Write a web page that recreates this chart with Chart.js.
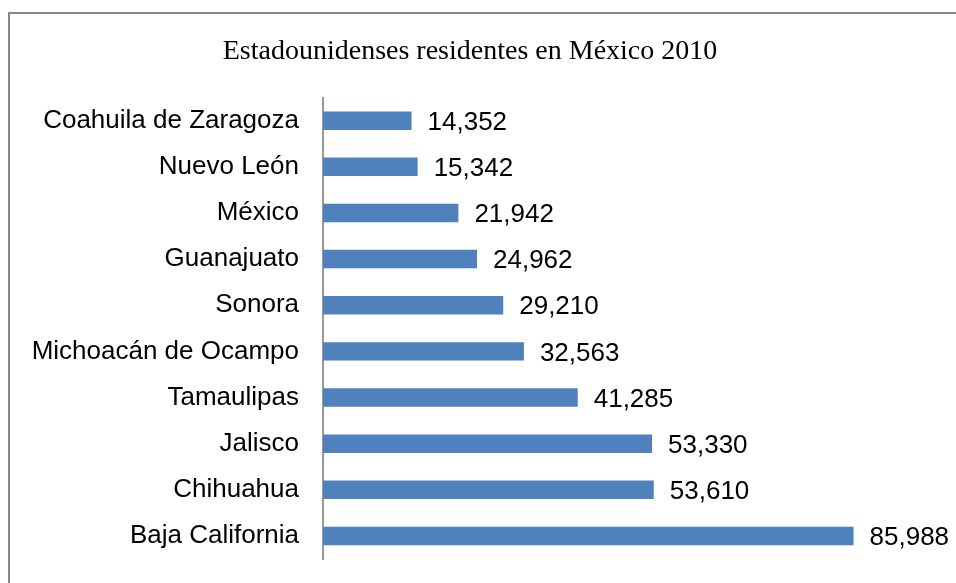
<!DOCTYPE html>
<html>
<head>
<meta charset="utf-8">
<script src="https://cdn.jsdelivr.net/npm/chart.js@4"></script>
<style>
    html, body { margin: 0; padding: 0; background: #fff; overflow: hidden; }
    #wrap { position: relative; width: 956px; height: 583px; }
    #frame {
        position: absolute; left: 8px; top: 12px; width: 980px; height: 620px;
        border-left: 2px solid #888; border-top: 2px solid #888;
    }
    canvas { position: absolute; left: 0; top: 0; }
</style>
</head>
<body>
<div id="wrap">
    <div id="frame"></div>
    <canvas id="chart" width="956" height="583"></canvas>
</div>
<script>
// Data (top to bottom as in the picture)
const states = ['Coahuila de Zaragoza', 'Nuevo León', 'México', 'Guanajuato', 'Sonora',
    'Michoacán de Ocampo', 'Tamaulipas', 'Jalisco', 'Chihuahua', 'Baja California'];
const residents = [14352, 15342, 21942, 24962, 29210, 32563, 41285, 53330, 53610, 85988];
const chartTitle = 'Estadounidenses residentes en México 2010';

// Value labels drawn at the end of every bar
const valueLabels = {
    id: 'valueLabels',
    afterDatasetsDraw(chart) {
        const ctx = chart.ctx;
        const meta = chart.getDatasetMeta(0);
        ctx.save();
        ctx.font = '26px "Liberation Sans", Arial, sans-serif';
        ctx.fillStyle = '#000';
        ctx.textAlign = 'left';
        ctx.textBaseline = 'middle';
        meta.data.forEach((bar, i) => {
            ctx.fillText(residents[i].toLocaleString('en-US'), bar.x + 16, bar.y + 2);
        });
        ctx.restore();
    }
};

new Chart(document.getElementById('chart'), {
    type: 'bar',
    data: {
        labels: states,
        datasets: [{
            data: residents,
            backgroundColor: '#4F81BD',
            borderWidth: 0,
            categoryPercentage: 1,
            barPercentage: 0.4
        }]
    },
    options: {
        indexAxis: 'y',
        responsive: false,
        animation: false,
        layout: { padding: { right: 16, bottom: 24 } },
        scales: {
            x: { display: false, min: 0, max: 100000 },
            y: {
                grid: { display: false, drawTicks: false },
                border: { display: true, color: '#999', width: 2 },
                ticks: {
                    color: '#000',
                    padding: 24,
                    font: { family: '"Liberation Sans", Arial, sans-serif', size: 26 }
                },
                afterFit(scale) {
                    scale.width = 323;
                    // labels sit inside the bands, no extra edge padding needed
                    scale.paddingTop = 0;
                    scale.paddingBottom = 0;
                }
            }
        },
        plugins: {
            legend: { display: false },
            tooltip: { enabled: false },
            title: {
                display: true,
                text: chartTitle,
                color: '#000',
                font: { family: '"Liberation Serif", "Times New Roman", serif', size: 28, weight: 'normal', lineHeight: 1.2 },
                padding: { top: 35, bottom: 29 }
            }
        }
    },
    plugins: [valueLabels]
});
</script>
</body>
</html>
